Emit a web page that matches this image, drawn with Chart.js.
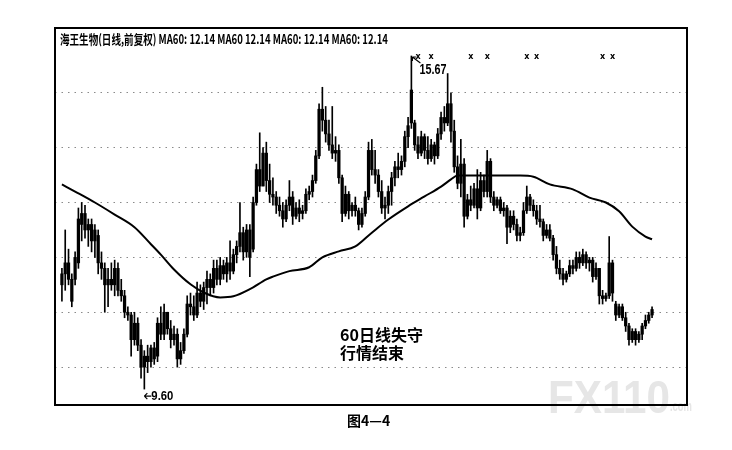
<!DOCTYPE html>
<html>
<head>
<meta charset="utf-8">
<script src="https://cdn.jsdelivr.net/npm/chart.js@4.4.0/dist/chart.umd.min.js"></script>
<style>
  html, body { margin: 0; padding: 0; background: #fff; }
  canvas { display: block; }
</style>
</head>
<body>
<canvas id="kChart" width="732" height="450"></canvas>
<script>
// daily candles (price units)
const opens = [
  11.5, 11.7, 11.9, 11.6, 11.6, 11.9, 12.6, 12.8, 12.5, 12.6,
  12.3, 12.4, 11.9, 11.8, 11.5, 11.6, 11.5, 11.8, 11.4, 11.3,
  11.0, 10.95, 10.5, 10.8, 10.4, 10.0, 10.2, 10.1, 10.35, 10.2,
  10.8, 10.6, 11.0, 10.7, 10.5, 10.6, 10.15, 10.3, 10.6, 11.15,
  11.1, 10.95, 11.35, 11.2, 11.45, 11.6, 11.45, 11.8, 11.6, 11.85,
  11.7, 11.9, 11.75, 12.05, 12.2, 12.45, 12.1, 12.5, 12.15, 13.0,
  13.6, 13.3, 13.9, 13.4, 13.15, 13.1, 12.95, 12.85, 12.7, 12.95,
  13.1, 12.75, 12.9, 12.8, 12.85, 13.15, 13.2, 13.4, 13.85, 14.7,
  14.5, 14.25, 14.05, 13.9, 13.95, 13.45, 12.8, 13.15, 12.85, 12.95,
  12.85, 12.6, 12.8, 13.1, 13.95, 13.6, 13.5, 13.2, 12.9, 12.95,
  13.2, 13.45, 13.65, 13.6, 13.75, 14.2, 15.05, 14.45, 14.05, 13.9,
  14.2, 13.95, 13.8, 14.05, 13.85, 14.25, 14.55, 14.45, 14.8, 14.3,
  13.65, 13.35, 13.7, 12.75, 13.05, 12.95, 13.25, 12.9, 13.4, 13.2,
  13.75, 13.1, 12.95, 13.05, 12.85, 12.9, 12.55, 12.75, 12.6, 12.4,
  12.45, 12.85, 13.1, 12.95, 12.85, 12.7, 12.65, 12.4, 12.5, 12.35,
  12.05, 11.8, 11.7, 11.6, 11.7, 11.85, 11.8, 12.0, 11.9, 12.05,
  11.9, 11.95, 11.65, 11.8, 11.3, 11.25, 11.3, 11.9, 11.15, 10.95,
  11.1, 10.9, 10.75, 10.5, 10.65, 10.5, 10.6, 10.75, 10.85, 10.95
];
const highs = [
  11.8, 12.5, 12.15, 11.7, 12.1, 12.9, 13.0, 12.95, 12.7, 12.7,
  12.6, 12.5, 12.1, 11.9, 11.8, 11.9, 11.95, 11.9, 11.6, 11.4,
  11.1, 11.0, 11.0, 10.9, 10.5, 10.3, 10.4, 10.4, 10.45, 10.9,
  11.1, 11.15, 11.0, 10.85, 10.75, 10.7, 10.45, 10.7, 11.3, 11.35,
  11.3, 11.55, 11.5, 11.55, 11.75, 11.7, 11.95, 11.95, 12.0, 11.95,
  12.0, 12.3, 12.15, 12.3, 13.0, 12.55, 12.6, 12.6, 13.1, 13.7,
  14.27, 14.0, 14.1, 13.7, 13.45, 13.2, 13.1, 13.0, 13.05, 13.4,
  13.2, 13.0, 13.05, 12.95, 13.25, 13.3, 13.5, 13.95, 14.8, 15.1,
  14.75, 14.5, 14.75, 14.2, 14.05, 13.5, 13.3, 13.2, 13.0, 13.1,
  12.9, 12.9, 13.2, 14.1, 14.15, 13.95, 13.6, 13.4, 13.1, 13.3,
  13.55, 13.75, 13.9, 13.85, 14.3, 14.55, 15.67, 14.5, 14.2, 14.3,
  14.25, 14.2, 14.15, 14.1, 14.35, 14.65, 14.75, 15.35, 15.0, 14.5,
  13.85, 14.15, 13.8, 13.15, 13.3, 13.35, 13.6, 13.55, 13.5, 13.95,
  13.8, 13.2, 13.1, 13.1, 13.0, 12.95, 12.85, 12.85, 12.7, 12.55,
  13.0, 13.3, 13.15, 13.05, 12.95, 12.95, 12.7, 12.6, 12.6, 12.4,
  12.2, 11.95, 11.8, 11.75, 11.95, 11.95, 12.1, 12.1, 12.15, 12.1,
  12.0, 12.0, 11.9, 11.8, 11.4, 11.35, 12.38, 11.95, 11.2, 11.15,
  11.15, 11.0, 10.8, 10.7, 10.7, 10.65, 10.8, 10.95, 11.0, 11.1
];
const lows = [
  11.2, 11.4, 11.5, 11.1, 11.5, 11.8, 12.3, 12.35, 12.2, 12.1,
  12.0, 11.7, 11.6, 11.0, 11.1, 11.4, 11.3, 11.3, 11.2, 10.9,
  10.85, 10.2, 10.4, 10.3, 9.8, 9.6, 9.9, 10.0, 10.05, 10.1,
  10.5, 10.5, 10.6, 10.35, 10.4, 10.0, 10.05, 10.25, 10.55, 10.95,
  10.85, 10.9, 11.1, 11.05, 11.15, 11.3, 11.35, 11.5, 11.5, 11.6,
  11.55, 11.6, 11.7, 11.9, 12.1, 11.95, 12.0, 11.65, 12.1, 12.95,
  13.2, 13.3, 13.2, 13.0, 12.95, 12.8, 12.75, 12.55, 12.65, 12.85,
  12.6, 12.7, 12.65, 12.7, 12.8, 13.05, 13.1, 13.35, 13.8, 14.3,
  14.1, 13.95, 13.8, 13.75, 13.35, 12.65, 12.75, 12.7, 12.75, 12.75,
  12.5, 12.55, 12.75, 13.05, 13.5, 13.35, 13.1, 12.8, 12.7, 12.8,
  12.95, 13.3, 13.45, 13.5, 13.65, 14.0, 14.35, 13.95, 13.8, 13.85,
  13.8, 13.7, 13.75, 13.7, 13.8, 14.15, 14.3, 14.4, 14.1, 13.55,
  13.25, 13.1, 12.55, 12.7, 12.85, 12.9, 12.7, 12.85, 13.1, 13.1,
  13.0, 12.85, 12.9, 12.8, 12.75, 12.25, 12.45, 12.5, 12.3, 12.3,
  12.4, 12.8, 12.85, 12.75, 12.6, 12.55, 12.3, 12.35, 12.3, 11.95,
  11.7, 11.6, 11.5, 11.55, 11.65, 11.7, 11.75, 11.8, 11.85, 11.8,
  11.75, 11.55, 11.6, 11.15, 11.15, 11.2, 11.25, 11.2, 10.85, 10.9,
  10.85, 10.65, 10.4, 10.45, 10.4, 10.45, 10.5, 10.7, 10.8, 10.9
];
const closes = [
  11.7, 11.9, 11.6, 11.2, 12.0, 12.7, 12.8, 12.5, 12.6, 12.3,
  12.5, 11.9, 11.8, 11.5, 11.6, 11.5, 11.8, 11.4, 11.3, 11.0,
  10.95, 10.5, 10.8, 10.4, 10.0, 10.2, 10.1, 10.35, 10.15, 10.8,
  10.6, 11.0, 10.7, 10.5, 10.6, 10.15, 10.3, 10.6, 11.15, 11.1,
  10.95, 11.35, 11.2, 11.45, 11.6, 11.45, 11.8, 11.6, 11.85, 11.7,
  11.9, 11.75, 12.05, 12.2, 12.45, 12.1, 12.5, 12.0, 13.0, 13.6,
  13.3, 13.9, 13.4, 13.15, 13.1, 12.95, 12.85, 12.7, 12.95, 13.1,
  12.75, 12.9, 12.8, 12.85, 13.15, 13.2, 13.4, 13.85, 14.7, 14.5,
  14.25, 14.05, 13.9, 13.95, 13.45, 12.8, 13.15, 12.85, 12.95, 12.85,
  12.6, 12.8, 13.1, 13.95, 13.6, 13.5, 13.2, 12.9, 12.95, 13.2,
  13.45, 13.65, 13.6, 13.75, 14.2, 14.4, 14.45, 14.05, 13.9, 14.2,
  13.95, 13.8, 14.05, 13.85, 14.25, 14.55, 14.45, 14.8, 14.3, 13.65,
  13.35, 13.7, 12.75, 13.05, 12.95, 13.25, 12.9, 13.4, 13.2, 13.75,
  13.1, 12.95, 13.05, 12.85, 12.9, 12.55, 12.75, 12.6, 12.4, 12.45,
  12.85, 13.1, 12.95, 12.85, 12.7, 12.65, 12.4, 12.5, 12.35, 12.05,
  11.8, 11.7, 11.6, 11.7, 11.85, 11.8, 12.0, 11.9, 12.05, 11.9,
  11.95, 11.65, 11.8, 11.3, 11.25, 11.3, 11.9, 11.35, 10.95, 11.1,
  10.9, 10.75, 10.5, 10.65, 10.5, 10.6, 10.75, 10.85, 10.95, 11.05
];

// MA60 line read at these candle positions
const maIdx = [0, 4, 10, 16, 22, 27, 30, 34, 39, 43, 48, 52, 57, 62, 64, 69, 75, 79, 84, 89,
  94, 99, 105, 110, 115, 118, 120, 139, 143, 148, 155, 160, 165, 169, 173, 177, 179];
const maVal = [13.33, 13.2, 13.0, 12.78, 12.55, 12.24, 12.05, 11.78, 11.51, 11.36, 11.27, 11.29, 11.42, 11.6, 11.65, 11.75, 11.82, 12.0, 12.11, 12.2,
  12.45, 12.69, 12.93, 13.11, 13.29, 13.42, 13.49, 13.49, 13.47, 13.33, 13.24, 13.09, 13.0, 12.84, 12.56, 12.38, 12.33];

const gridLevels = [10, 11, 12, 13, 14, 15];
const markIdx = [108, 112, 124, 129, 141, 144, 164, 167];

const titleText = '海王生物(日线,前复权) MA60: 12.14 MA60 12.14 MA60: 12.14 MA60: 12.14';
const noteLines = ['60日线失守', '行情结束'];
const caption = '图4—4';

const wickData = highs.map((h, i) => ({ x: i, y: [lows[i], h] }));
const bodyData = opens.map((o, i) => ({ x: i, y: [Math.min(o, closes[i]), Math.max(o, closes[i])] }));
const maData = maIdx.map((idx, i) => ({ x: idx, y: maVal[i] }));

const cjk = '"Noto Sans CJK SC", "Liberation Sans", sans-serif';

const decorPlugin = {
    id: 'decor',
    beforeDraw(chart) {
        const ctx = chart.ctx;
        ctx.save();
        ctx.fillStyle = '#fff';
        ctx.fillRect(0, 0, chart.width, chart.height);
        // faint site watermark in the corner
        ctx.fillStyle = '#e6e6e6';
        ctx.font = 'bold 46px "Liberation Sans", Arial, sans-serif';
        ctx.textBaseline = 'alphabetic';
        ctx.fillText('FX110', 548, 413, 122);
        ctx.font = 'bold 14px "Liberation Sans", Arial, sans-serif';
        ctx.fillText('.com', 670, 411, 22);
        ctx.restore();
    },
    afterDraw(chart) {
        const { ctx, chartArea: a, scales } = chart;
        ctx.save();

        // frame
        ctx.strokeStyle = '#000';
        ctx.lineWidth = 2;
        ctx.strokeRect(a.left, a.top, a.right - a.left, a.bottom - a.top);

        ctx.fillStyle = '#000';
        ctx.textBaseline = 'middle';
        ctx.textAlign = 'left';

        // header line
        ctx.font = 'bold 13px ' + cjk;
        ctx.fillText(titleText, a.left + 5, 39, 328);

        // small event marks along the top
        ctx.font = 'bold 8px "DejaVu Sans", sans-serif';
        ctx.textAlign = 'center';
        markIdx.forEach(i => ctx.fillText('x', scales.x.getPixelForValue(i), 57));

        // highest point
        let hi = 0, lo = 0;
        highs.forEach((v, i) => { if (v > highs[hi]) hi = i; });
        lows.forEach((v, i) => { if (v < lows[lo]) lo = i; });
        const hx = scales.x.getPixelForValue(hi), hy = scales.y.getPixelForValue(highs[hi]);
        ctx.lineWidth = 1.2;
        ctx.beginPath();
        ctx.moveTo(hx + 9, hy + 7);
        ctx.lineTo(hx + 1, hy + 1);
        ctx.moveTo(hx + 1, hy + 1);
        ctx.lineTo(hx + 5, hy + 1);
        ctx.moveTo(hx + 1, hy + 1);
        ctx.lineTo(hx + 1, hy + 5);
        ctx.stroke();
        ctx.textAlign = 'left';
        ctx.font = 'bold 14px "Liberation Sans Narrow", "Liberation Sans", sans-serif';
        ctx.fillText(highs[hi].toFixed(2), hx + 8, hy + 14, 27);

        // lowest point
        const lx = scales.x.getPixelForValue(lo), ly = scales.y.getPixelForValue(lows[lo]);
        ctx.beginPath();
        ctx.moveTo(lx + 7, ly + 7);
        ctx.lineTo(lx, ly + 7);
        ctx.moveTo(lx, ly + 7);
        ctx.lineTo(lx + 3, ly + 4);
        ctx.moveTo(lx, ly + 7);
        ctx.lineTo(lx + 3, ly + 10);
        ctx.stroke();
        ctx.font = 'bold 13px "Liberation Sans Narrow", "Liberation Sans", sans-serif';
        ctx.fillText(lows[lo].toFixed(2), lx + 7, ly + 7, 22);

        // annotation
        ctx.font = 'bold 16px ' + cjk;
        ctx.fillText(noteLines[0], 340, 335, 88);
        ctx.fillText(noteLines[1], 340, 353);

        // figure caption under the frame
        ctx.font = 'bold 14px ' + cjk;
        ctx.fillText(caption, 347, 421);
        ctx.restore();
    }
};

const ctx = document.getElementById('kChart').getContext('2d');
const kChart = new Chart(ctx, {
    type: 'bar',
    data: {
        datasets: [
            {
                type: 'line',
                data: maData,
                borderColor: '#000',
                borderWidth: 2,
                pointRadius: 0,
                cubicInterpolationMode: 'monotone',
                order: 0
            },
            {
                data: wickData,
                backgroundColor: '#000',
                barThickness: 1,
                grouped: false,
                order: 2
            },
            {
                data: bodyData,
                backgroundColor: '#000',
                barThickness: 2.6,
                minBarLength: 1,
                grouped: false,
                order: 1
            }
        ]
    },
    options: {
        responsive: false,
        animation: false,
        layout: { padding: { left: 55, top: 28, right: 45, bottom: 45 } },
        plugins: {
            legend: { display: false },
            tooltip: { enabled: false }
        },
        scales: {
            x: {
                type: 'linear',
                min: -2.1,
                max: 189.6,
                offset: false,
                display: false
            },
            y: {
                min: 9.31,
                max: 16.18,
                afterBuildTicks: (scale) => {
                    scale.ticks = gridLevels.map(v => ({ value: v }));
                },
                ticks: { display: false },
                grid: { color: '#8a8a8a', lineWidth: 1, drawTicks: false },
                border: { display: false, dash: [1.5, 5] }
            }
        }
    },
    plugins: [decorPlugin]
});
</script>
</body>
</html>
